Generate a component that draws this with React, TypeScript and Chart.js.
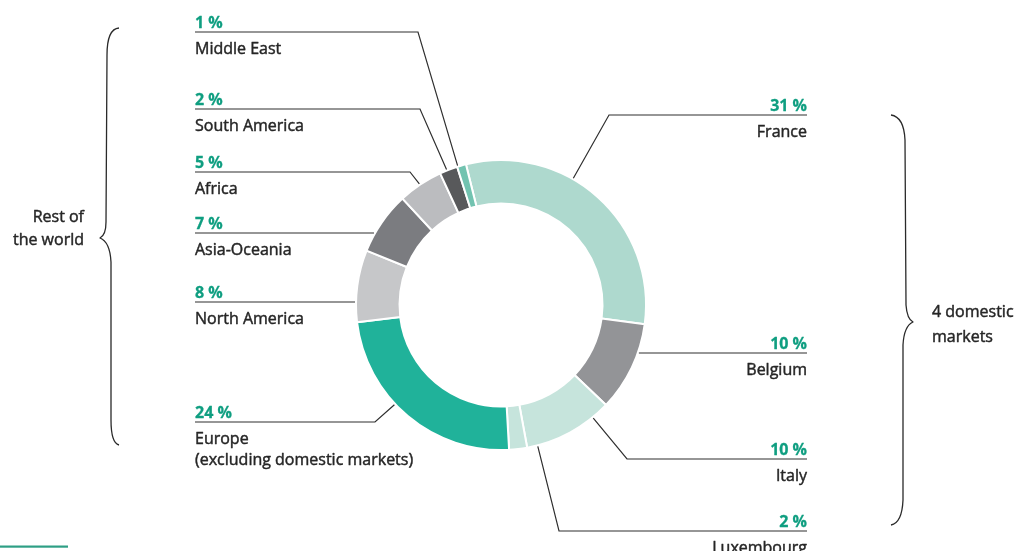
import React, { useEffect, useRef } from "react";
import { Chart, registerables } from "chart.js";

Chart.register(...registerables);

// ---- data ----
const categories = [
  "France",
  "Belgium",
  "Italy",
  "Luxembourg",
  "Europe\n(excluding domestic markets)",
  "North America",
  "Asia-Oceania",
  "Africa",
  "South America",
  "Middle East",
];
const shares = [31, 10, 10, 2, 24, 8, 7, 5, 2, 1];
const sliceColors = [
  "#aed9ce",
  "#939497",
  "#c6e4dc",
  "#c6e4dc",
  "#20b29a",
  "#c6c7c9",
  "#7b7c80",
  "#bbbcbf",
  "#58595b",
  "#72c3b0",
];
const groupLabels = ["Rest of\nthe world", "4 domestic\nmarkets"];

// ---- callout layout (annotation positions only) ----
type Callout = { i: number; side: "left" | "right"; lineY: number; elbowX: number | null; angle?: number };
const callouts: Callout[] = [
  { i: 0, side: "right", lineY: 115, elbowX: 609, angle: 29.7 },
  { i: 1, side: "right", lineY: 353, elbowX: null },
  { i: 2, side: "right", lineY: 459, elbowX: 627, angle: 140.8 },
  { i: 3, side: "right", lineY: 531, elbowX: 559, angle: 165.4 },
  { i: 4, side: "left", lineY: 422, elbowX: 375, angle: 226.9 },
  { i: 5, side: "left", lineY: 302, elbowX: null },
  { i: 6, side: "left", lineY: 233, elbowX: null },
  { i: 7, side: "left", lineY: 172, elbowX: 410, angle: 326 },
  { i: 8, side: "left", lineY: 109, elbowX: 420, angle: 338.1 },
  { i: 9, side: "left", lineY: 32, elbowX: 418, angle: 342.7 },
];

const LEFT_X = 195;
const RIGHT_X = 807;
const GREEN = "#0f9e80";
const DARK = "#262626";
const FONT = '"Open Sans", "Noto Sans", sans-serif';

function heavyText(ctx: CanvasRenderingContext2D, t: string, x: number, y: number) {
  ctx.fillText(t, x, y);
  ctx.strokeText(t, x, y);
}

const calloutPlugin = {
  id: "callouts",
  afterDraw(chart: any) {
    const ctx: CanvasRenderingContext2D = chart.ctx;
    const meta = chart.getDatasetMeta(0);
    const arc0 = meta.data[0] as any;
    const cx = arc0.x;
    const cy = arc0.y;
    const R = arc0.outerRadius + 1;
    ctx.save();

    // leader lines
    ctx.strokeStyle = "#2f2f2f";
    ctx.lineWidth = 1.2;
    callouts.forEach((c) => {
      const startX = c.side === "left" ? LEFT_X : RIGHT_X;
      ctx.beginPath();
      ctx.moveTo(startX, c.lineY);
      if (c.elbowX === null) {
        const dy = c.lineY - cy;
        const dx = Math.sqrt(Math.max(R * R - dy * dy, 0));
        ctx.lineTo(c.side === "left" ? cx - dx : cx + dx, c.lineY);
      } else {
        ctx.lineTo(c.elbowX, c.lineY);
        const a = ((c.angle as number) * Math.PI) / 180;
        ctx.lineTo(cx + R * Math.sin(a), cy - R * Math.cos(a));
      }
      ctx.stroke();
    });

    // texts
    ctx.textBaseline = "alphabetic";
    ctx.lineJoin = "round";
    callouts.forEach((c) => {
      const x = c.side === "left" ? LEFT_X : RIGHT_X;
      ctx.textAlign = c.side === "left" ? "left" : "right";
      ctx.fillStyle = GREEN;
      ctx.strokeStyle = GREEN;
      ctx.lineWidth = 0.3;
      ctx.font = "bold 16px " + FONT;
      heavyText(ctx, shares[c.i] + " %", x, c.lineY - 4);
      ctx.fillStyle = DARK;
      ctx.strokeStyle = DARK;
      ctx.lineWidth = 0.45;
      ctx.font = "16px " + FONT;
      categories[c.i].split("\n").forEach((ln, k) => {
        heavyText(ctx, ln, x, c.lineY + 22 + k * 21);
      });
    });

    // group labels
    ctx.fillStyle = DARK;
    ctx.strokeStyle = DARK;
    ctx.lineWidth = 0.45;
    ctx.font = "16px " + FONT;
    ctx.textAlign = "right";
    groupLabels[0].split("\n").forEach((ln, k) => heavyText(ctx, ln, 84, 222 + k * 23));
    ctx.textAlign = "left";
    groupLabels[1].split("\n").forEach((ln, k) => heavyText(ctx, ln, 932, 317 + k * 25));

    // braces
    ctx.strokeStyle = "#2a2a2a";
    ctx.lineWidth = 1.3;
    ctx.beginPath();
    ctx.moveTo(119, 28);
    ctx.quadraticCurveTo(107, 29, 107, 55);
    ctx.lineTo(106, 222);
    ctx.quadraticCurveTo(106, 235, 100, 238);
    ctx.quadraticCurveTo(110, 242, 111, 262);
    ctx.lineTo(111, 420);
    ctx.quadraticCurveTo(111, 443, 119, 445);
    ctx.stroke();

    ctx.beginPath();
    ctx.moveTo(891, 115);
    ctx.quadraticCurveTo(904, 117, 905, 140);
    ctx.lineTo(906, 305);
    ctx.quadraticCurveTo(907, 319, 913, 322);
    ctx.quadraticCurveTo(904, 326, 903, 345);
    ctx.lineTo(903, 500);
    ctx.quadraticCurveTo(902, 523, 891, 525);
    ctx.stroke();

    // bottom-left accent bar
    ctx.fillStyle = "#2e9f85";
    ctx.fillRect(0, 545.5, 68, 2.2);

    ctx.restore();
  },
};

export default function App() {
  const ref = useRef<HTMLCanvasElement | null>(null);
  useEffect(() => {
    if (!ref.current) return;
    const chart = new Chart(ref.current, {
      type: "doughnut",
      data: {
        labels: categories.map((c) => c.replace("\n", " ")),
        datasets: [
          {
            data: shares,
            backgroundColor: sliceColors,
            borderColor: "#ffffff",
            borderWidth: 2,
          },
        ],
      },
      options: {
        responsive: false,
        animation: false,
        rotation: -14,
        cutout: "70%",
        layout: { padding: { left: 355, top: 159, right: 368, bottom: 100 } },
        plugins: { legend: { display: false }, tooltip: { enabled: false } },
      },
      plugins: [calloutPlugin],
    });
    return () => chart.destroy();
  }, []);
  return (
    <div style={{ position: "fixed", left: 0, top: 0, width: 1015, height: 551, background: "#fff" }}>
      <canvas ref={ref} width={1015} height={551} style={{ display: "block" }} />
    </div>
  );
}
